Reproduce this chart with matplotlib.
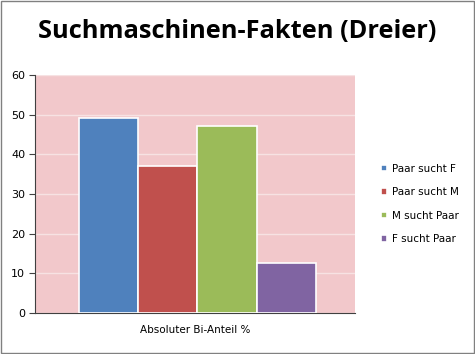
import matplotlib
matplotlib.use("Agg")
import matplotlib.pyplot as plt
from matplotlib.patches import Rectangle

categories = ["Paar sucht F", "Paar sucht M", "M sucht Paar", "F sucht Paar"]
values = [49.2, 37.1, 47.2, 12.7]
colors = ["#4F81BD", "#C0504D", "#9BBB59", "#8064A2"]
yticks = [0, 10, 20, 30, 40, 50, 60]
xlabel = "Absoluter Bi-Anteil %"
title = "Suchmaschinen-Fakten (Dreier)"

fig = plt.figure(figsize=(4.75, 3.54), dpi=100)
fig.patch.set_facecolor("white")
fig.add_artist(Rectangle((0.002, 0.002), 0.996, 0.994, transform=fig.transFigure,
                         fill=False, edgecolor="#808080", linewidth=1))
ax = fig.add_axes([0.0737, 0.116, 0.6733, 0.672])
ax.set_facecolor("#F2C8CB")
for i, (c, v, col) in enumerate(zip(categories, values, colors)):
    ax.bar(i, v, width=1.0, color=col, edgecolor="white", linewidth=1.2, label=c, zorder=3)
ax.set_xlim(-1.24, 4.16)
ax.set_ylim(0, 60)
ax.set_yticks(yticks)
ax.yaxis.grid(True, color="#F7E2E3", linewidth=1, zorder=0)
ax.set_xticks([])
for s in ["top", "right"]:
    ax.spines[s].set_visible(False)
ax.spines["left"].set_color("#404040")
ax.spines["bottom"].set_color("#404040")
ax.tick_params(axis="y", direction="out", length=4, color="#404040", labelsize=8, pad=3)
ax.set_xlabel(xlabel, fontsize=7.5, labelpad=9)
fig.text(0.5, 0.91, title, ha="center", va="center", fontsize=18.3, fontweight="bold",
         family="Open Sans")
leg = ax.legend(loc="center left", bbox_to_anchor=(1.053, 0.458), frameon=False,
                fontsize=7.5, handlelength=0.6, handleheight=0.6, labelspacing=1.3,
                handletextpad=0.45)
fig.savefig("out.png", dpi=100)
